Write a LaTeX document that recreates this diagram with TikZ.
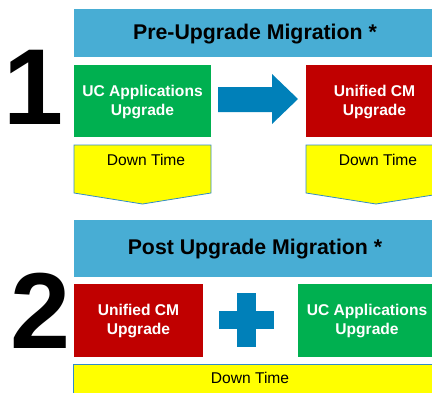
\documentclass[tikz,border=0pt]{standalone}
\usepackage{fontspec}
\setmainfont{Liberation Sans}
\definecolor{bannerblue}{RGB}{72,173,212}
\definecolor{ucgreen}{RGB}{0,176,80}
\definecolor{cmred}{RGB}{192,0,0}
\definecolor{arrowblue}{RGB}{0,128,185}
\definecolor{dtyellow}{RGB}{255,255,0}
\definecolor{dtborder}{RGB}{50,140,200}
\tikzset{
  bannertext/.style={inner sep=0pt, font=\fontsize{21.3}{25}\selectfont\bfseries, text=black},
  boxtext/.style={inner sep=0pt, align=center, text=white, font=\fontsize{15.6}{18.3}\selectfont\bfseries},
  dttext/.style={inner sep=0pt, text=black, font=\fontsize{15.6}{18}\selectfont},
  bignum/.style={inner sep=0pt, text=black, font=\fontsize{108}{108}\selectfont\bfseries},
  dtshape/.style={fill=dtyellow, draw=dtborder, line width=0.8pt},
}
\begin{document}
\begin{tikzpicture}[x=1pt,y=-1pt]
\useasboundingbox (0,0) rectangle (432,392);
\clip (0,0) rectangle (432,392);
% ---------- section 1 ----------
\fill[bannerblue] (74,9) rectangle (436,57);
\node[bannertext] (t1) at (255,34) {Pre-Upgrade Migration *};
\node[bignum] (n1) at (34,87) {1};
\fill[ucgreen] (74,65) rectangle (211,137);
\node[boxtext] (uc1) at (142.5,102) {UC Applications\\Upgrade};
\fill[cmred] (306,65) rectangle (443,137);
\node[boxtext] (cm1) at (374.5,102) {Unified CM\\Upgrade};
\fill[arrowblue] (218,87) -- (272,87) -- (272,74) -- (298,99) -- (272,124) -- (272,112) -- (218,112) -- cycle;
\draw[dtshape] (74,145) -- (211,145) -- (211,193) -- (142.5,204) -- (74,193) -- cycle;
\node[dttext] (dt1) at (146,160) {Down Time};
\draw[dtshape] (306,145) -- (446,145) -- (446,193) -- (376,204) -- (306,193) -- cycle;
\node[dttext] (dt2) at (378,160) {Down Time};
% ---------- section 2 ----------
\fill[bannerblue] (74,220) rectangle (436,277);
\node[bannertext] (t2) at (255,249) {Post Upgrade Migration *};
\node[bignum] (n2) at (41,311) {2};
\fill[cmred] (74,284) rectangle (203,357);
\node[boxtext] (cm2) at (138.5,321) {Unified CM\\Upgrade};
\fill[ucgreen] (298,284) rectangle (436,357);
\node[boxtext] (uc2) at (367,321) {UC Applications\\Upgrade};
\fill[arrowblue] (237,293) rectangle (256,347);
\fill[arrowblue] (219,311) rectangle (274,329);
\draw[dtshape] (73,364) rectangle (440,400);
\node[dttext] (dt3) at (250,378) {Down Time};
\end{tikzpicture}
\end{document}
